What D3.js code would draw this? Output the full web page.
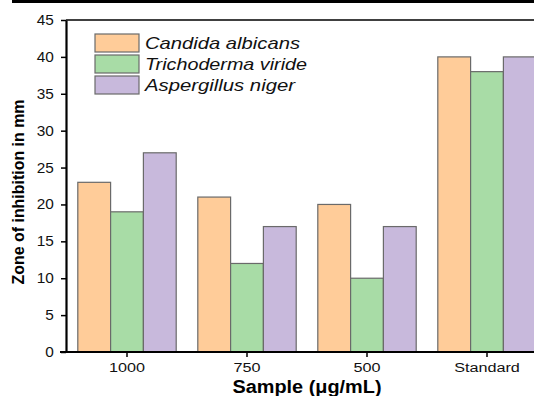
<!DOCTYPE html>
<html>
<head>
<meta charset="utf-8">
<script src="https://cdn.jsdelivr.net/npm/d3@7"></script>
<style>
  body { margin: 0; background: #fff; }
  svg { display: block; font-family: "Liberation Sans", Arial, sans-serif; }
</style>
</head>
<body>
<div id="chart"></div>
<script>
(function (d3) {
    "use strict";

    /***** Données *****/
    const samples = ["1000", "750", "500", "Standard"];
    const species = ["Candida albicans", "Trichoderma viride", "Aspergillus niger"];
    const candida = [23, 21, 20, 40];
    const trichoderma = [19, 12, 10, 38];
    const aspergillus = [27, 17, 17, 40];
    const yTicks = [0, 5, 10, 15, 20, 25, 30, 35, 40, 45];

    const colors = ["#ffcc99", "#a8dca6", "#c8b9dc"];
    const series = [candida, trichoderma, aspergillus];

    /***** Configuration *****/
    const width = 534, height = 396;
    const margin = { top: 20, left: 66, bottom: 44 };

    const svg = d3.select("#chart").append("svg")
        .attr("width", width)
        .attr("height", height);

    // barre noire en haut
    svg.append("rect")
        .attr("x", 12).attr("y", 0)
        .attr("width", width - 12).attr("height", 3)
        .attr("fill", "#000");

    /***** Échelles *****/
    const y = d3.scaleLinear().domain([0, 45]).range([height - margin.bottom, margin.top]);
    const x = d3.scaleBand().domain(samples).range([margin.left + 1, margin.left + 481]).paddingInner(0.18).paddingOuter(0.09);
    const xSub = d3.scaleBand().domain(d3.range(species.length)).range([0, x.bandwidth()]);

    /***** Barres *****/
    series.forEach(function (vals, i) {
        svg.append("g").selectAll("rect")
            .data(vals)
            .join("rect")
            .attr("x", (d, j) => x(samples[j]) + xSub(i))
            .attr("y", d => y(d))
            .attr("width", xSub.bandwidth())
            .attr("height", d => y(0) - y(d))
            .attr("fill", colors[i])
            .attr("stroke", "#6a6a6a")
            .attr("stroke-width", 1.2);
    });

    /***** Axes *****/
    // ligne du haut
    svg.append("line")
        .attr("x1", margin.left).attr("x2", width)
        .attr("y1", y(45)).attr("y2", y(45))
        .attr("stroke", "#000").attr("stroke-width", 1.5);

    const yAxis = svg.append("g")
        .attr("transform", "translate(" + margin.left + ",0)")
        .call(d3.axisLeft(y).tickValues(yTicks).tickSize(5).tickSizeOuter(0));
    yAxis.select(".domain").attr("stroke-width", 2.2);
    yAxis.selectAll(".tick line").attr("stroke-width", 1.5);
    yAxis.selectAll(".tick text")
        .attr("font-size", 14).attr("fill", "#111").attr("x", -11)
        .attr("transform", "scale(1.1,1)");

    const xAxis = svg.append("g")
        .attr("transform", "translate(0," + y(0) + ")")
        .call(d3.axisBottom(x).tickSize(5).tickSizeOuter(0));
    xAxis.select(".domain").attr("d", "M" + (margin.left - 6) + ",0H" + width).attr("stroke-width", 2.2);
    xAxis.selectAll(".tick line").attr("stroke-width", 1.5);
    xAxis.selectAll(".tick text")
        .attr("font-size", 13.5).attr("fill", "#111").attr("y", 10)
        .attr("transform", "scale(1.2,1)");

    /***** Titres *****/
    svg.append("text")
        .attr("transform", "translate(24," + ((y(0) + y(45)) / 2 + 6) + ") rotate(-90)")
        .attr("text-anchor", "middle")
        .attr("font-weight", "bold")
        .attr("font-size", 16)
        .attr("textLength", 185)
        .attr("lengthAdjust", "spacingAndGlyphs")
        .text("Zone of inhibition in mm");

    svg.append("text")
        .attr("x", 307).attr("y", 393)
        .attr("text-anchor", "middle")
        .attr("font-weight", "bold")
        .attr("font-size", 17.5)
        .attr("textLength", 149)
        .attr("lengthAdjust", "spacingAndGlyphs")
        .text("Sample (\u03bcg/mL)");

    /***** Légende *****/
    const legendWidths = [155, 162, 150];
    const legend = svg.append("g").attr("transform", "translate(95,34)");
    species.forEach(function (s, i) {
        legend.append("rect")
            .attr("x", 0).attr("y", i * 21)
            .attr("width", 44).attr("height", 18)
            .attr("fill", colors[i])
            .attr("stroke", "#6a6a6a")
            .attr("stroke-width", 1.2);
        legend.append("text")
            .attr("x", 50).attr("y", i * 21 + 15)
            .attr("font-style", "italic")
            .attr("font-size", 17)
            .attr("fill", "#111")
            .attr("textLength", legendWidths[i])
            .attr("lengthAdjust", "spacingAndGlyphs")
            .text(s);
    });
})(d3);
</script>
</body>
</html>
